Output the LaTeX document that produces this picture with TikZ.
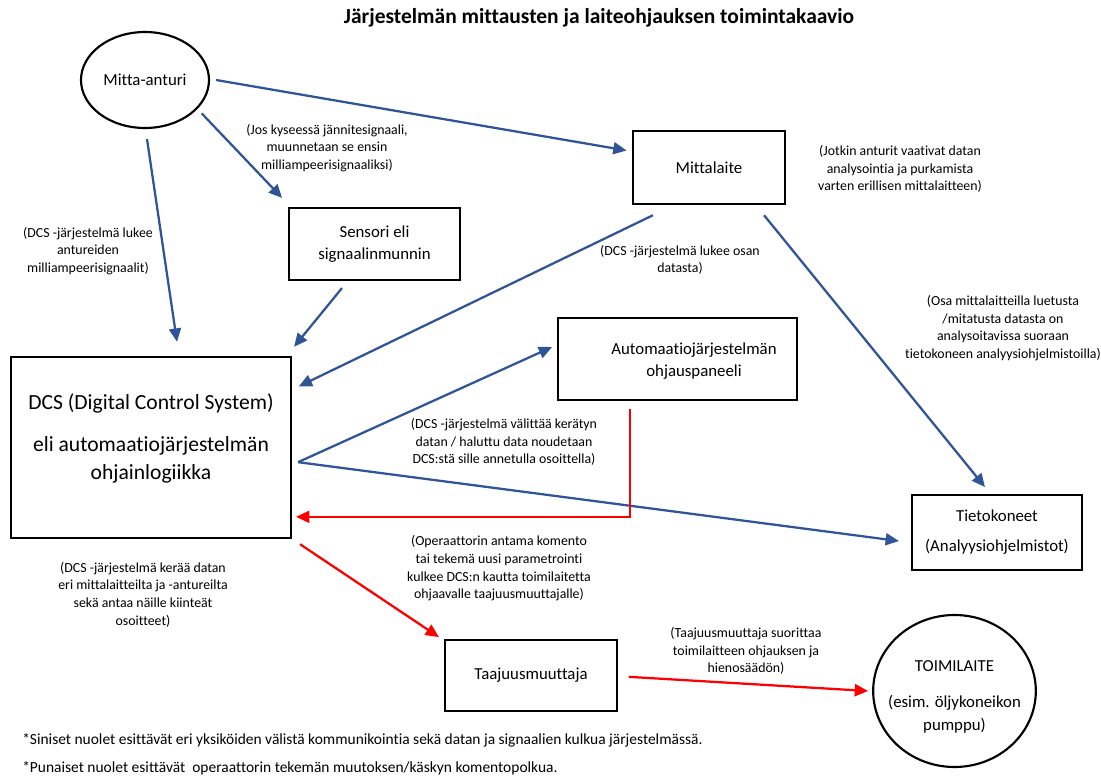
\documentclass[tikz,border=0pt]{standalone}
\usepackage{fontspec}
\setmainfont{Carlito}[Ligatures={NoCommon}]
\usetikzlibrary{arrows.meta,shapes.geometric}
\definecolor{sininen}{RGB}{47,85,151}
\definecolor{punainen}{RGB}{255,0,0}

\begin{document}
\begin{tikzpicture}[x=0.75pt,y=-0.75pt,>={Triangle[length=10pt,width=9pt]}]
  \tikzstyle{box}=[draw,line width=1.6pt,align=center,font=\fontsize{12.6}{17}\selectfont]
  \tikzstyle{soikio}=[ellipse,draw,line width=1.6pt,align=center,inner sep=0pt,font=\fontsize{12.6}{17}\selectfont]
  \tikzstyle{teksti}=[align=center,font=\fontsize{12.6}{17}\selectfont]
  \tikzstyle{selite}=[align=center,font=\fontsize{10.4}{13.3}\selectfont]
  \tikzstyle{alaviite}=[anchor=west,inner sep=0pt,font=\fontsize{11.6}{14}\selectfont]
  \tikzstyle{sininuoli}=[sininen,line width=1.7pt,->]
  \tikzstyle{punanuoli}=[punainen,line width=1.7pt,->]
  \useasboundingbox (0,0) rectangle (1101,778);
  \node[font=\fontsize{16.1}{19}\selectfont\bfseries] (otsikko) at (599,18) {Järjestelmän mittausten ja laiteohjauksen toimintakaavio};
  % laitteet
  \node[soikio,minimum width=96pt,minimum height=72pt] (anturi) at (145,80) {Mitta-anturi};
  \node[box,minimum width=114pt,minimum height=55pt] (mittalaite) at (709,167.5) {Mittalaite};
  \node[box,minimum width=128pt,minimum height=54pt] (sensori) at (374.5,244) {Sensori eli\\signaalinmunnin};
  \node[box,minimum width=210pt,minimum height=136pt] (dcs) at (151,447.5) {};
  \node[align=center,font=\fontsize{16.2}{20.5}\selectfont] (dcsteksti) at (151,438) {DCS (Digital Control System)\\[11.5pt]eli automaatiojärjestelmän\\ohjainlogiikka};
  \node[box,minimum width=179pt,minimum height=61.5pt] (paneeli) at (677.5,359) {};
  \node[teksti] (paneeliteksti) at (694,361) {Automaatiojärjestelmän\\ohjauspaneeli};
  \node[box,minimum width=127.5pt,minimum height=56pt] (tietokoneet) at (997,532.5) {Tietokoneet\\[5.5pt](Analyysiohjelmistot)};
  \node[box,minimum width=129pt,minimum height=53pt] (taajuus) at (531,675.5) {Taajuusmuuttaja};
  \node[soikio,minimum width=122pt,minimum height=114pt] (toimilaite) at (954.5,691) {};
  \node[teksti] (toimilaiteteksti) at (954.5,697) {TOIMILAITE\\[10pt](esim. öljykoneikon\\pumppu)};
  % siniset nuolet
  \draw[sininuoli] ([xshift=4.5pt]anturi.east) -- ([xshift=-4pt,yshift=12.75pt]mittalaite.west);
  \draw[sininuoli] ([xshift=8pt,yshift=1pt]anturi.south east) -- ([xshift=-4.5pt,yshift=6.75pt]sensori.north west);
  \draw[sininuoli] ([xshift=1.5pt,yshift=-7.5pt]anturi.south) -- ([xshift=19.5pt,yshift=10.5pt]dcs.north);
  \draw[sininuoli] ([xshift=-24.4pt,yshift=-5.25pt]sensori.south) -- ([xshift=1.5pt,yshift=6.75pt]dcs.north east);
  \draw[sininuoli] ([xshift=15.75pt,yshift=-7.5pt]mittalaite.south west) -- ([xshift=5pt,yshift=-23pt]dcs.north east);
  \draw[sininuoli] ([xshift=-16.5pt,yshift=-7.5pt]mittalaite.south east) -- ([xshift=-9pt,yshift=5.25pt]tietokoneet.north);
  \coordinate (haara) at ([xshift=4.5pt,yshift=-11pt]dcs.east);
  \draw[sininuoli] (haara) -- ([xshift=-3.75pt,yshift=9pt]paneeli.west);
  \draw[sininuoli] (haara) -- ([xshift=-9pt,yshift=-6.4pt]tietokoneet.west);
  % punaiset nuolet
  \draw[punanuoli] ([xshift=-35.6pt,yshift=-6pt]paneeli.south) |- ([xshift=3pt,yshift=-52pt]dcs.east);
  \draw[punanuoli] ([xshift=6pt,yshift=-3.75pt]dcs.south east) -- ([xshift=-3.75pt,yshift=1.5pt]taajuus.north west);
  \draw[punanuoli] ([xshift=8pt,yshift=-1pt]taajuus.east) -- ([xshift=-3pt]toimilaite.west);
  % selitteet
  \node[selite] (jos) at (327,148) {(Jos kyseessä jännitesignaali,\\muunnetaan se ensin\\milliampeerisignaaliksi)};
  \node[selite] (lukee) at (88,251) {(DCS -järjestelmä lukee\\antureiden\\milliampeerisignaalit)};
  \node[selite] (jotkin) at (900,169) {(Jotkin anturit vaativat datan\\analysointia ja purkamista\\varten erillisen mittalaitteen)};
  \node[selite] (osan) at (680,260) {(DCS -järjestelmä lukee osan\\datasta)};
  \node[selite] (osa) at (1003,328) {(Osa mittalaitteilla luetusta\\/mitatusta datasta on\\analysoitavissa suoraan\\tietokoneen analyysiohjelmistoilla)};
  \node[selite] (valittaa) at (504,442) {(DCS -järjestelmä välittää kerätyn\\datan / haluttu data noudetaan\\DCS:stä sille annetulla osoittella)};
  \node[selite] (komento) at (499,568.5) {(Operaattorin antama komento\\tai tekemä uusi parametrointi\\kulkee DCS:n kautta toimilaitetta\\ohjaavalle taajuusmuuttajalle)};
  \node[selite] (keraa) at (143,594.5) {(DCS -järjestelmä kerää datan\\eri mittalaitteilta ja -antureilta\\sekä antaa näille kiinteät\\osoitteet)};
  \node[selite] (suorittaa) at (746,651) {(Taajuusmuuttaja suorittaa\\toimilaitteen ohjauksen ja\\hienosäädön)};
  % alaviitteet
  \node[alaviite] (sininen) at (22,740) {*Siniset nuolet esittävät eri yksiköiden välistä kommunikointia sekä datan ja signaalien kulkua järjestelmässä.};
  \node[alaviite] (punainen) at (22,768) {*Punaiset nuolet esittävät\ \ operaattorin tekemän muutoksen/käskyn komentopolkua.};
\end{tikzpicture}
\end{document}
